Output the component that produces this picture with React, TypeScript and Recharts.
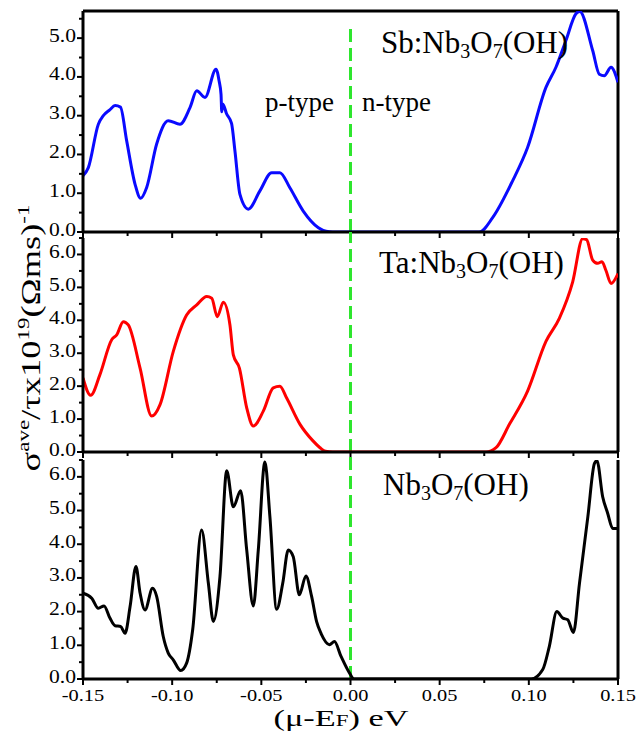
import React from 'react';
import { LineChart, Line, XAxis, YAxis, ReferenceLine } from 'recharts';

// x positions (eV) and sigma/tau values for each compound
const sbX = [-0.150,-0.147,-0.1414,-0.1386,-0.135,-0.132,-0.129,-0.1255,-0.1208,-0.1177,-0.1143,-0.1087,-0.1022,-0.0956,-0.090,-0.0862,-0.0816,-0.0754,-0.0737,-0.0726,-0.0722,-0.0716,-0.0695,-0.0667,-0.0648,-0.062,-0.0573,-0.0508,-0.0442,-0.0396,-0.034,-0.0265,-0.018,-0.0137,-0.010,0.000,0.050,0.0722,0.0797,0.0909,0.0993,0.1096,0.1152,0.1208,0.1264,0.1285,0.1358,0.1395,0.1423,0.1461,0.150];
const sbY = [1.45,1.66,2.78,3.00,3.15,3.26,3.22,2.35,1.23,0.87,1.15,2.27,2.87,2.78,3.21,3.64,3.47,4.20,3.90,3.55,3.10,3.30,3.05,2.80,2.09,0.97,0.59,1.06,1.53,1.53,1.14,0.54,0.11,0.02,0,0,0,0,0.37,1.32,2.18,3.73,4.25,4.94,5.63,5.69,4.68,4.07,4.03,4.25,3.86];

const taX = [-0.150,-0.1457,-0.1405,-0.1339,-0.1311,-0.1274,-0.1246,-0.118,-0.1115,-0.1068,-0.0994,-0.0919,-0.0862,-0.0806,-0.0778,-0.0747,-0.0713,-0.0676,-0.0657,-0.0623,-0.0582,-0.0545,-0.0489,-0.0433,-0.0396,-0.0358,-0.0283,-0.0209,-0.0171,-0.014,-0.010,0.000,0.050,0.076,0.0816,0.0891,0.0993,0.1096,0.1171,0.1246,0.1302,0.1324,0.1358,0.1386,0.141,0.1432,0.1461,0.150];
const taY = [2.25,1.72,2.35,3.41,3.56,3.96,3.86,2.55,1.09,1.44,3.05,4.16,4.47,4.72,4.67,4.11,4.55,3.86,2.95,2.55,1.34,0.79,1.24,1.95,2.00,1.64,0.84,0.33,0.13,0.02,0,0,0,0,0.13,0.84,1.85,3.36,4.06,5.17,6.48,6.45,5.83,5.73,5.78,5.52,5.12,5.42];

const nbX = [-0.150,-0.1451,-0.1414,-0.1382,-0.1349,-0.132,-0.1289,-0.1264,-0.1236,-0.1203,-0.118,-0.1152,-0.111,-0.1087,-0.105,-0.1022,-0.0994,-0.0952,-0.0919,-0.0885,-0.0835,-0.0797,-0.0769,-0.0732,-0.0694,-0.0657,-0.0616,-0.0582,-0.0545,-0.0517,-0.048,-0.0452,-0.0414,-0.038,-0.0349,-0.0321,-0.0287,-0.025,-0.0218,-0.019,-0.0165,-0.0118,-0.009,-0.0053,-0.0006,0.002,0.050,0.1013,0.1078,0.1115,0.1157,0.119,0.1218,0.125,0.1284,0.1331,0.1368,0.1382,0.1414,0.1442,0.147,0.150];
const nbY = [2.55,2.40,2.10,2.17,1.81,1.58,1.56,1.36,2.15,3.34,2.55,2.05,2.69,2.45,1.26,0.77,0.57,0.25,0.47,1.46,4.42,2.84,1.71,3.04,6.18,5.11,5.59,3.83,2.17,3.83,6.44,4.82,2.07,2.84,3.83,3.63,2.50,3.06,2.45,1.70,1.35,1.02,1.11,0.67,0.18,0,0,0,0.28,0.97,2.00,1.81,1.76,1.38,2.84,4.82,6.40,6.48,5.41,4.92,4.47,4.47];

const xTicks = [-0.15,-0.125,-0.1,-0.075,-0.05,-0.025,0,0.025,0.05,0.075,0.1,0.125,0.15];
const sbYTicks = [0,0.5,1,1.5,2,2.5,3,3.5,4,4.5,5,5.5];
const yTicks65 = [0,0.5,1,1.5,2,2.5,3,3.5,4,4.5,5,5.5,6,6.5];

const FONT = '"Liberation Serif", "Times New Roman", serif';
const GREEN = '#2ee62e';

const zip = (xs: number[], ys: number[]) => xs.map((x, i) => ({ x, y: ys[i] }));

const XTick = (props: any) => {
  const { x, y, payload, showLabel } = props;
  const ay = y - 8;
  const v = payload.value;
  const major = Math.abs(v * 20 - Math.round(v * 20)) < 1e-6;
  return (
    <g>
      <line x1={x} x2={x} y1={ay} y2={ay + (major ? 6 : 4)} stroke="#000" strokeWidth={2} />
      {showLabel && major && (
        <text transform={`translate(${x},${ay + 22}) scale(1.2,1)`} textAnchor="middle" fontSize={17} fontFamily={FONT} fill="#000">
          {v.toFixed(2)}
        </text>
      )}
    </g>
  );
};

const YTick = (props: any) => {
  const { x, y, payload } = props;
  const ax = x + 8;
  const v = payload.value;
  const major = Math.abs(v - Math.round(v)) < 1e-6;
  return (
    <g>
      <line x1={ax - (major ? 6 : 4)} x2={ax} y1={y} y2={y} stroke="#000" strokeWidth={2} />
      {major && (
        <text transform={`translate(${ax - 7},${y + 3.5}) scale(1.2,1)`} textAnchor="end" fontSize={18} fontFamily={FONT} fill="#000">
          {v.toFixed(1)}
        </text>
      )}
    </g>
  );
};

function Panel(p: { top: number; height: number; marginTop: number; xAxisHeight: number; data: any[]; color: string; yMax: number; yTicks: number[]; showXLabels: boolean; greenTop: number; frameTop: boolean; }) {
  return (
    <div style={{ position: 'absolute', left: 0, top: p.top, width: 636, height: p.height }}>
      <LineChart width={636} height={p.height} data={p.data} margin={{ top: p.marginTop, right: 18, left: 0, bottom: 0 }}>
        <XAxis type="number" dataKey="x" domain={[-0.15, 0.15]} ticks={xTicks} interval={0} allowDataOverflow height={p.xAxisHeight} tickSize={6} tickMargin={2} tickLine={false} axisLine={{ stroke: '#000', strokeWidth: 3 }} tick={<XTick showLabel={p.showXLabels} />} />
        <YAxis type="number" domain={[0, p.yMax]} ticks={p.yTicks} interval={0} allowDataOverflow width={83} tickSize={6} tickMargin={2} tickLine={false} axisLine={{ stroke: '#000', strokeWidth: 3 }} tick={<YTick />} />
        <ReferenceLine x={0.15} stroke="#000" strokeWidth={3} />
        {p.frameTop && <ReferenceLine y={p.yMax} stroke="#000" strokeWidth={3} />}
        <ReferenceLine segment={[{ x: 0, y: 0 }, { x: 0, y: p.greenTop }]} stroke={GREEN} strokeWidth={3} strokeDasharray="13 6" ifOverflow="visible" />
        <Line type="monotone" dataKey="y" stroke={p.color} strokeWidth={3} dot={false} isAnimationActive={false} />
      </LineChart>
    </div>
  );
}

export default function App() {
  return (
    <div style={{ position: 'absolute', left: 0, top: 0, width: 636, height: 732, background: '#fff', fontFamily: FONT }}>
      <Panel top={0} height={242} marginTop={11} xAxisHeight={10} data={zip(sbX, sbY)} color="#0a0aff" yMax={5.7} yTicks={sbYTicks} showXLabels={false} greenTop={5.37} frameTop={true} />
      <Panel top={230} height={232} marginTop={8} xAxisHeight={10} data={zip(taX, taY)} color="#ff0000" yMax={6.5} yTicks={yTicks65} showXLabels={false} greenTop={6.68} frameTop={false} />
      <Panel top={452} height={280} marginTop={8} xAxisHeight={53} data={zip(nbX, nbY)} color="#000000" yMax={6.5} yTicks={yTicks65} showXLabels={true} greenTop={6.68} frameTop={false} />
      <svg width={636} height={732} style={{ position: 'absolute', left: 0, top: 0, pointerEvents: 'none' }} fontFamily={FONT}>
        <text x={381} y={53} fontSize={31} fill="#000">Sb:Nb<tspan fontSize={20} dy={5}>3</tspan><tspan dy={-5}>O</tspan><tspan fontSize={20} dy={5}>7</tspan><tspan dy={-5}>(OH)</tspan></text>
        <text x={379} y={273} fontSize={31} fill="#000">Ta:Nb<tspan fontSize={20} dy={5}>3</tspan><tspan dy={-5}>O</tspan><tspan fontSize={20} dy={5}>7</tspan><tspan dy={-5}>(OH)</tspan></text>
        <text x={383} y={495} fontSize={31} fill="#000">Nb<tspan fontSize={20} dy={5}>3</tspan><tspan dy={-5}>O</tspan><tspan fontSize={20} dy={5}>7</tspan><tspan dy={-5}>(OH)</tspan></text>
        <text x={265} y={111} fontSize={27} fill="#000">p-type</text>
        <text x={362} y={111} fontSize={27} fill="#000">n-type</text>
        <text transform="translate(40,338) rotate(-90) scale(1.35,1)" textAnchor="middle" fontSize={27} fill="#000">σ<tspan fontSize={17} dy={-11}>ave</tspan><tspan dy={11}>/τx10</tspan><tspan fontSize={17} dy={-11}>19</tspan><tspan dy={11}>(Ωms)</tspan><tspan fontSize={17} dy={-11}>-1</tspan></text>
        <text transform="translate(341,726) scale(1.43,1)" textAnchor="middle" fontSize={24} fill="#000">(μ-E<tspan fontSize={16}>F</tspan>) eV</text>
      </svg>
    </div>
  );
}
